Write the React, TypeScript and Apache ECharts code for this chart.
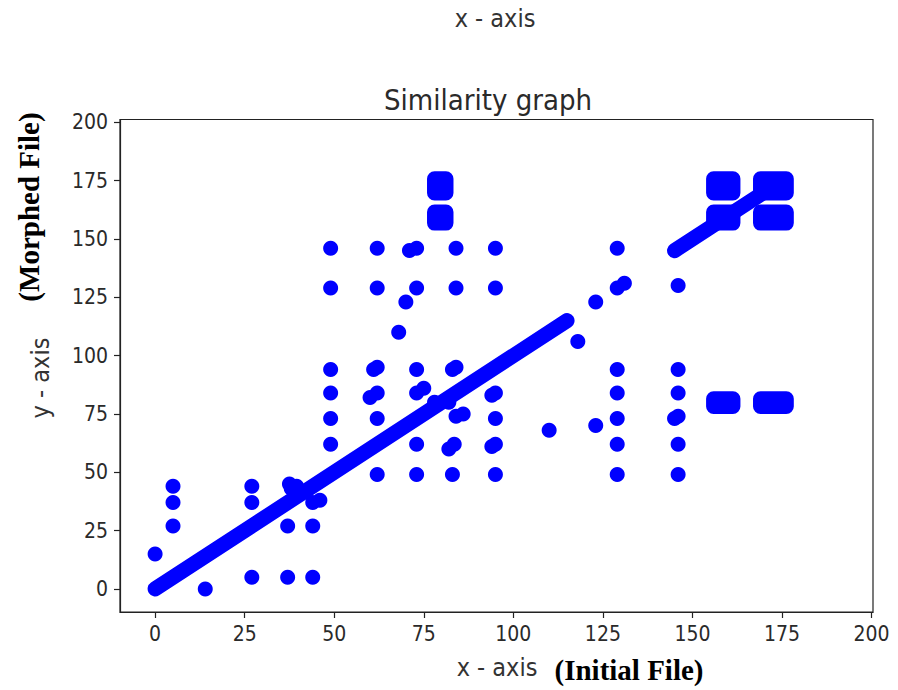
import React, { useEffect, useRef } from "react";
import * as echarts from "echarts";

// Tick labels (both axes)
const xTicks = [0, 25, 50, 75, 100, 125, 150, 175, 200];
const yTicks = [0, 25, 50, 75, 100, 125, 150, 175, 200];

// Dense runs of matched lines lying on y = x: [start, end]
const diagonalRuns: [number, number][] = [
  [0, 115],
  [145, 172],
];

// Scattered points, x < 50
const lowerPoints: [number, number][] = [
  [0, 15], [5, 44], [5, 37], [5, 27], [14, 0],
  [27, 44], [27, 37], [27, 5],
  [37, 27], [37, 5], [37.5, 45], [39.5, 44], [38, 43],
  [44, 27], [44, 5], [44, 37], [46, 38],
];

// Scattered points, 49 <= x <= 95
const middlePoints: [number, number][] = [
  [49, 146], [49, 129], [49, 94], [49, 84], [49, 73], [49, 62],
  [62, 146], [62, 129], [61, 94], [62, 95], [60, 82], [62, 84], [62, 73], [62, 49],
  [68, 110], [70, 123], [71, 145], [73, 146], [73, 129],
  [73, 94], [73, 84], [75, 86], [73, 62], [73, 49],
  [78, 80], [82, 80],
  [84, 146], [84, 129], [83, 94], [84, 95], [84, 74], [86, 75], [82, 60], [83.5, 62], [83, 49],
  [95, 146], [95, 129], [94, 83], [95, 84], [95, 73], [94, 61], [95, 62], [95, 49],
];

// Scattered points, x >= 110
const rightPoints: [number, number][] = [
  [110, 68], [118, 106], [123, 123], [123, 70],
  [129, 146], [129, 129], [131, 131], [129, 94], [129, 84], [129, 73], [129, 62], [129, 49],
  [146, 130], [146, 94], [146, 84], [145, 73], [146, 74], [146, 62], [146, 49],
];

// Dense blocks of points: [xFrom, xTo, yFrom, yTo] (marker centres)
const clusterBoxes: [number, number, number, number][] = [
  [78, 81.2, 169.7, 175.8],
  [78, 81.2, 156.8, 161.5],
  [155.9, 161.3, 169.7, 175.8],
  [155.9, 161.3, 156.8, 161.5],
  [169, 176.2, 169.7, 175.8],
  [169, 176.2, 156.8, 161.5],
  [155.9, 161.3, 78.2, 81.5],
  [169, 176.2, 78.2, 81.5],
];

const BLUE = "#0000ff";
const MARKER = 15;
const SANS = "'DejaVu Sans Condensed', 'DejaVu Sans', sans-serif";
const SERIF = "'Liberation Serif', 'Times New Roman', serif";

export default function App() {
  const ref = useRef<HTMLDivElement>(null);
  useEffect(() => {
    if (!ref.current) return;
    const chart = echarts.init(ref.current, undefined, { renderer: "svg" });
    const allPoints = [...lowerPoints, ...middlePoints, ...rightPoints];
    const lineSeries = diagonalRuns.map(([a, b]) => ({
      type: "line" as const,
      data: [
        [a, a],
        [b, b],
      ],
      symbol: "none",
      lineStyle: { color: BLUE, width: MARKER, cap: "round" as const },
      z: 2,
    }));
    const axisCommon = {
      type: "value" as const,
      axisLine: { show: true, onZero: false, lineStyle: { color: "#222", width: 1.2 } },
      axisTick: { show: true, length: 6, lineStyle: { color: "#222", width: 1.2 } },
      splitLine: { show: false },
    };
    chart.setOption({
      animation: false,
      backgroundColor: "#ffffff",
      grid: {
        left: 120,
        right: 25,
        top: 119.5,
        bottom: 78,
        show: true,
        borderColor: "#222",
        borderWidth: 1.2,
        backgroundColor: "transparent",
      },
      title: {
        text: "Similarity graph",
        left: 483,
        top: 80,
        textAlign: "center",
        textStyle: { fontFamily: SANS, fontSize: 29, fontWeight: "normal", color: "#2a2a2a" },
      },
      xAxis: {
        ...axisCommon,
        min: -9.8,
        max: 200.4,
        axisTick: { ...axisCommon.axisTick, customValues: xTicks },
        axisLabel: {
          customValues: xTicks,
          fontFamily: SANS,
          fontSize: 21,
          color: "#2a2a2a",
          margin: 11,
        },
      },
      yAxis: {
        ...axisCommon,
        min: -9.9,
        max: 201.2,
        axisTick: { ...axisCommon.axisTick, customValues: yTicks },
        axisLabel: {
          customValues: yTicks,
          fontFamily: SANS,
          fontSize: 21,
          color: "#2a2a2a",
          margin: 12,
        },
      },
      graphic: [
        {
          type: "text",
          x: 495,
          y: 18,
          style: { text: "x - axis", fontFamily: SANS, fontSize: 25, fill: "#333", textAlign: "center", textVerticalAlign: "middle" },
        },
        {
          type: "text",
          x: 497,
          y: 667,
          style: { text: "x - axis", fontFamily: SANS, fontSize: 25, fill: "#333", textAlign: "center", textVerticalAlign: "middle" },
        },
        {
          type: "text",
          x: 629,
          y: 670,
          style: { text: "(Initial File)", fontFamily: SERIF, fontSize: 29, fontWeight: "bold", fill: "#000", textAlign: "center", textVerticalAlign: "middle" },
        },
        {
          type: "text",
          x: 40,
          y: 378,
          rotation: Math.PI / 2,
          style: { text: "y - axis", fontFamily: SANS, fontSize: 25, fill: "#333", textAlign: "center", textVerticalAlign: "middle" },
        },
        {
          type: "text",
          x: 29,
          y: 207,
          rotation: Math.PI / 2,
          style: { text: "(Morphed File)", fontFamily: SERIF, fontSize: 29, fontWeight: "bold", fill: "#000", textAlign: "center", textVerticalAlign: "middle" },
        },
      ],
      series: [
        ...lineSeries,
        {
          type: "custom",
          data: clusterBoxes,
          encode: { x: [0, 1], y: [2, 3] },
          z: 3,
          renderItem: (_params: any, api: any) => {
            const p0 = api.coord([api.value(0), api.value(3)]);
            const p1 = api.coord([api.value(1), api.value(2)]);
            const r = MARKER / 2;
            return {
              type: "rect",
              shape: {
                x: p0[0] - r,
                y: p0[1] - r,
                width: p1[0] - p0[0] + 2 * r,
                height: p1[1] - p0[1] + 2 * r,
                r: r,
              },
              style: { fill: BLUE },
            };
          },
        },
        {
          type: "scatter",
          data: allPoints,
          symbol: "circle",
          symbolSize: MARKER,
          itemStyle: { color: BLUE, opacity: 1 },
          z: 3,
        },
      ],
    });
    return () => chart.dispose();
  }, []);
  return (
    <div
      ref={ref}
      style={{ position: "fixed", left: 0, top: 0, width: 898, height: 690, background: "#fff" }}
    />
  );
}
